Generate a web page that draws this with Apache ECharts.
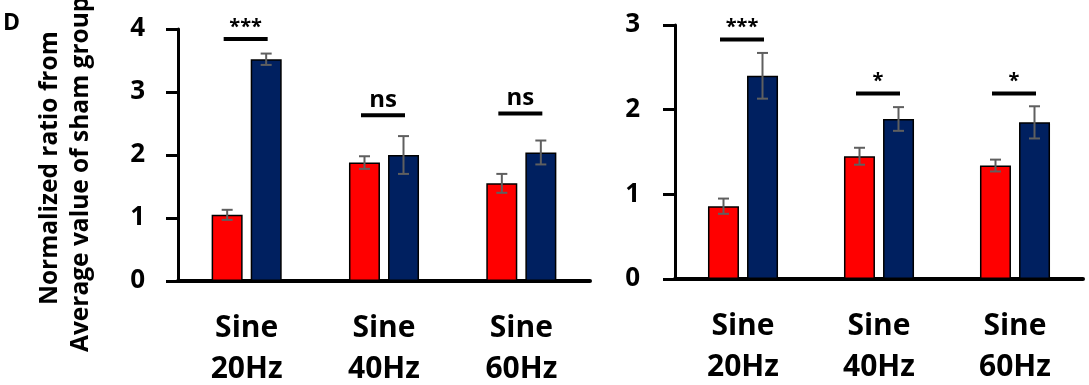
<!DOCTYPE html>
<html>
<head>
<meta charset="utf-8">
<script src="https://cdn.jsdelivr.net/npm/echarts@6/dist/echarts.min.js"></script>
<style>
  html, body { margin: 0; padding: 0; background: #fff; }
  #chart { width: 1089px; height: 385px; }
</style>
</head>
<body>
<div id="chart"></div>
<script>
// data
var categories = ['Sine\n20Hz', 'Sine\n40Hz', 'Sine\n60Hz']

var leftRed = [1.05, 1.88, 1.55]
var leftRedErr = [0.08, 0.10, 0.15]
var leftBlue = [3.52, 2.00, 2.04]
var leftBlueErr = [0.09, 0.30, 0.19]
var leftSig = ['***', 'ns', 'ns']
var leftSigY = [3.84, 2.63, 2.66]

var rightRed = [0.86, 1.45, 1.34]
var rightRedErr = [0.09, 0.10, 0.07]
var rightBlue = [2.40, 1.89, 1.85]
var rightBlueErr = [0.27, 0.14, 0.19]
var rightSig = ['***', '*', '*']
var rightSigY = [2.83, 2.19, 2.19]

var FONT = 'Open Sans'
var RED = '#ff0000'
var BLUE = '#002060'

var chart = echarts.init(document.getElementById('chart'))

function errData(vals, errs) {
  return vals.map(function(v, i) { return [i, v, errs[i]] })
}

// error bar drawn at bar center (offset in px from category center)
function errRender(offset) {
  return function(params, api) {
    var i = api.value(0)
    var m = api.value(1)
    var e = api.value(2)
    var hi = api.coord([i, m + e])
    var lo = api.coord([i, m - e])
    var x = hi[0] + offset
    var cap = 5.5
    var style = { stroke: '#5f5f5f', lineWidth: 2 }
    return {
      type: 'group',
      children: [
        { type: 'line', shape: { x1: x, y1: hi[1], x2: x, y2: lo[1] }, style: style },
        { type: 'line', shape: { x1: x - cap, y1: hi[1], x2: x + cap, y2: hi[1] }, style: style },
        { type: 'line', shape: { x1: x - cap, y1: lo[1], x2: x + cap, y2: lo[1] }, style: style }
      ]
    }
  }
}

function sigRender(labels) {
  return function(params, api) {
    var p = api.coord([api.value(0), api.value(1)])
    var lab = labels[params.dataIndex]
    var isStar = lab.indexOf('*') >= 0
    return {
      type: 'group',
      children: [
        { type: 'line', shape: { x1: p[0] - 23, y1: p[1], x2: p[0] + 21, y2: p[1] },
          style: { stroke: '#000', lineWidth: 4 } },
        { type: 'text', x: p[0] - 1, y: isStar ? p[1] - 2 : p[1] - 3,
          style: { text: lab, fill: '#000', fontFamily: FONT, fontWeight: 'bold',
            fontSize: isStar ? 20 : 24, align: 'center', verticalAlign: 'bottom' } }
      ]
    }
  }
}

function xAxis(idx) {
  return {
    type: 'category',
    gridIndex: idx,
    data: categories,
    axisLine: { lineStyle: { color: '#000', width: 4 } },
    axisTick: { show: false },
    axisLabel: { color: '#000', fontFamily: FONT, fontWeight: 'bold', fontSize: 30,
      lineHeight: 41, margin: 27 }
  }
}

function yAxis(idx, max, margin) {
  return {
    type: 'value',
    gridIndex: idx,
    min: 0,
    max: max,
    interval: 1,
    splitLine: { show: false },
    axisLine: { show: true, lineStyle: { color: '#000', width: 3 } },
    axisTick: { show: true, length: 12, lineStyle: { color: '#000', width: 3 } },
    axisLabel: { color: '#000', fontFamily: FONT, fontWeight: 'bold', fontSize: 26, margin: margin }
  }
}

function bars(name, idx, data, color) {
  return {
    name: name,
    type: 'bar',
    xAxisIndex: idx,
    yAxisIndex: idx,
    data: data,
    barWidth: 31,
    barGap: '26%',
    itemStyle: { color: color, borderColor: '#000', borderWidth: 1.5 },
    animation: false
  }
}

function errSeries(idx, vals, errs, offset) {
  return {
    type: 'custom',
    xAxisIndex: idx,
    yAxisIndex: idx,
    data: errData(vals, errs),
    renderItem: errRender(offset),
    z: 5,
    animation: false
  }
}

function sigSeries(idx, ys, labels) {
  return {
    type: 'custom',
    xAxisIndex: idx,
    yAxisIndex: idx,
    data: ys.map(function(y, i) { return [i, y] }),
    renderItem: sigRender(labels),
    z: 5,
    animation: false
  }
}

var titleStyle = { fill: '#000', fontFamily: FONT, fontWeight: 'bold', fontSize: 24.5,
  align: 'left', verticalAlign: 'middle' }

chart.setOption({
  backgroundColor: '#fff',
  animation: false,
  grid: [
    { left: 178, top: 29, width: 412, bottom: 104, outerBoundsMode: 'none' },
    { left: 675, top: 25, width: 408, bottom: 106, outerBoundsMode: 'none' }
  ],
  xAxis: [xAxis(0), xAxis(1)],
  yAxis: [yAxis(0, 4, 33), yAxis(1, 3, 35)],
  graphic: [
    { type: 'text', left: 3, top: 12,
      style: { text: 'D', fill: '#000', fontFamily: FONT, fontWeight: 'bold', fontSize: 23 } },
    { type: 'text', x: 50, y: 305, rotation: Math.PI / 2,
      style: Object.assign({ text: 'Normalized ratio from' }, titleStyle) },
    { type: 'text', x: 81, y: 352, rotation: Math.PI / 2,
      style: Object.assign({ text: 'Average value of sham group' }, titleStyle) }
  ],
  series: [
    bars('left-red', 0, leftRed, RED),
    bars('left-blue', 0, leftBlue, BLUE),
    errSeries(0, leftRed, leftRedErr, -19.5),
    errSeries(0, leftBlue, leftBlueErr, 19.5),
    sigSeries(0, leftSigY, leftSig),
    bars('right-red', 1, rightRed, RED),
    bars('right-blue', 1, rightBlue, BLUE),
    errSeries(1, rightRed, rightRedErr, -19.5),
    errSeries(1, rightBlue, rightBlueErr, 19.5),
    sigSeries(1, rightSigY, rightSig)
  ]
})
</script>
</body>
</html>
